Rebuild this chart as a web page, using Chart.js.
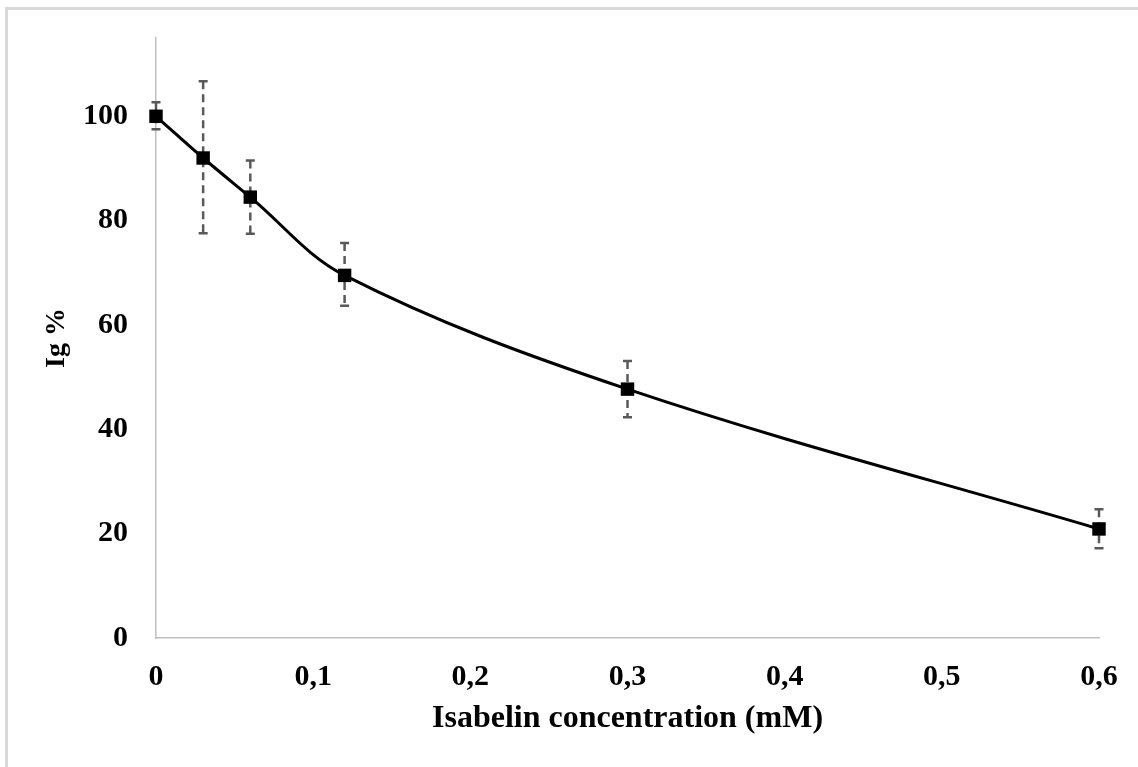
<!DOCTYPE html>
<html>
<head>
<meta charset="utf-8">
<script src="https://cdn.jsdelivr.net/npm/chart.js@4/dist/chart.umd.min.js"></script>
<style>
    html, body { margin: 0; padding: 0; background: #fff; overflow: hidden; }
    #frame {
        position: absolute; left: 5px; top: 7px; width: 1200px; height: 800px;
        border: 3px solid #d9d9d9; pointer-events: none;
    }
    #wrap { position: absolute; left: 0; top: 0; width: 1138px; height: 767px; }
</style>
</head>
<body>
<div id="frame"></div>
<div id="wrap"><canvas id="chart" width="1138" height="767"></canvas></div>
<script>
// concentration (mM) and inhibition values
const concentrations = [0, 0.03, 0.06, 0.12, 0.3, 0.6];
const igPercent = [100, 92, 84.5, 69.5, 47.7, 20.9];
const errUp = [2.7, 14.7, 7, 6.2, 5.4, 3.8];
const errDown = [2.5, 14.4, 7, 5.8, 5.4, 3.7];
const xTicks = [0, 0.1, 0.2, 0.3, 0.4, 0.5, 0.6];
const yTicks = [0, 20, 40, 60, 80, 100];

const serif = "'Liberation Serif', 'Times New Roman', serif";
const tickFont = { family: serif, size: 30, weight: "bold" };

// dashed error bars with solid caps, drawn under the markers
const errorBars = {
    id: "errorBars",
    beforeDatasetsDraw(chart) {
        const { ctx, scales: { x, y } } = chart;
        ctx.save();
        ctx.strokeStyle = "#595959";
        ctx.lineWidth = 2.5;
        concentrations.forEach((c, i) => {
            const px = x.getPixelForValue(c);
            const top = y.getPixelForValue(igPercent[i] + errUp[i]);
            const bot = y.getPixelForValue(igPercent[i] - errDown[i]);
            ctx.setLineDash([8, 5]);
            ctx.beginPath();
            ctx.moveTo(px, top);
            ctx.lineTo(px, bot);
            ctx.stroke();
            ctx.setLineDash([]);
            ctx.beginPath();
            ctx.moveTo(px - 4.5, top);
            ctx.lineTo(px + 4.5, top);
            ctx.moveTo(px - 4.5, bot);
            ctx.lineTo(px + 4.5, bot);
            ctx.stroke();
        });
        ctx.restore();
    },
};

new Chart(document.getElementById("chart"), {
    type: "line",
    data: {
        datasets: [{
            data: concentrations.map((c, i) => ({ x: c, y: igPercent[i] })),
            borderColor: "#000",
            borderWidth: 3,
            tension: 0.35,
            clip: false,
            pointStyle: "rect",
            pointRadius: 9.5,
            pointBackgroundColor: "#000",
            pointBorderColor: "#000",
            pointBorderWidth: 0,
        }],
    },
    options: {
        responsive: false,
        animation: false,
        layout: { padding: { top: 38, right: 39, left: 0, bottom: 0 } },
        plugins: { legend: { display: false }, tooltip: { enabled: false } },
        scales: {
            x: {
                type: "linear",
                min: 0,
                max: 0.6,
                afterBuildTicks: (s) => { s.ticks = xTicks.map((v) => ({ value: v })); },
                afterFit: (s) => { s.height = 129; s.paddingLeft = 0; s.paddingRight = 0; },
                grid: { display: false, drawTicks: false },
                border: { color: "#bfbfbf", width: 1.5 },
                ticks: {
                    font: tickFont,
                    color: "#000",
                    padding: 21,
                    maxRotation: 0,
                    callback: (v) => String(v).replace(".", ","),
                },
                title: {
                    display: true,
                    text: "Isabelin concentration (mM)",
                    font: { family: serif, size: 32, weight: "bold" },
                    color: "#000",
                    padding: { top: 0, bottom: 29 },
                },
            },
            y: {
                min: 0,
                max: 115,
                afterBuildTicks: (s) => { s.ticks = yTicks.map((v) => ({ value: v })); },
                afterFit: (s) => { s.width = 156; s.paddingTop = 0; s.paddingBottom = 0; },
                grid: { display: false, drawTicks: false },
                border: { color: "#bfbfbf", width: 1.5 },
                ticks: { font: tickFont, color: "#000", padding: 28 },
                title: {
                    display: true,
                    text: "Ig %",
                    font: { family: serif, size: 28, weight: "bold" },
                    color: "#000",
                    padding: { top: 40, bottom: 0 },
                },
            },
        },
    },
    plugins: [errorBars],
});
</script>
</body>
</html>
